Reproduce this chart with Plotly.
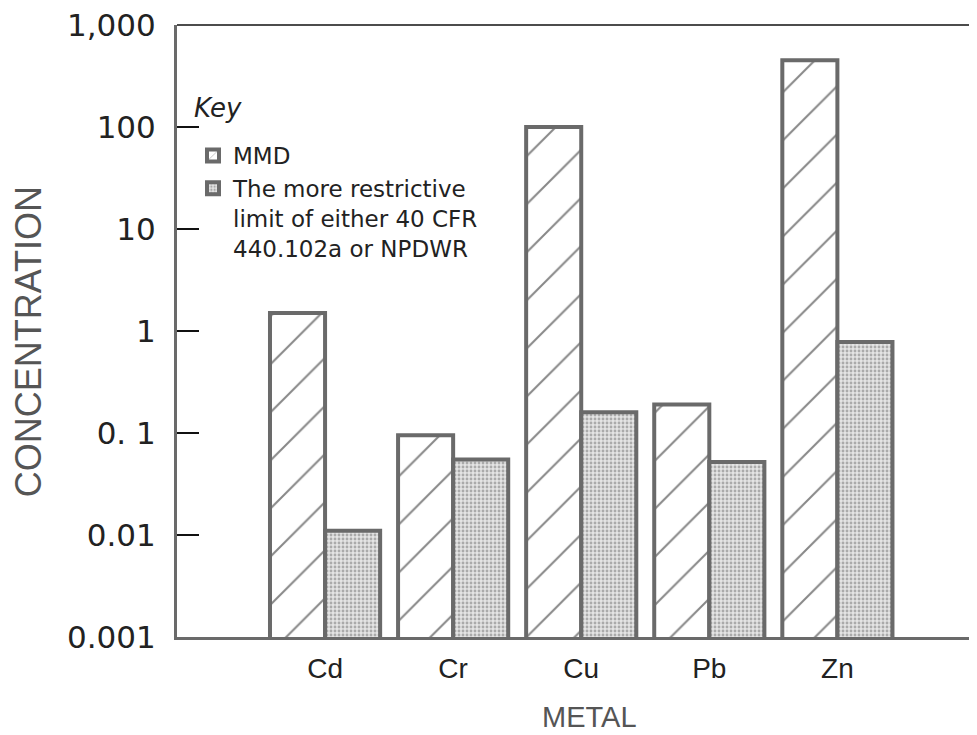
import plotly.graph_objects as go

metals = ["Cd", "Cr", "Cu", "Pb", "Zn"]
mmd = [1.5, 0.095, 100, 0.19, 450]
limit = [0.011, 0.055, 0.16, 0.052, 0.78]
ytick_vals = [0.001, 0.01, 0.1, 1, 10, 100, 1000]
ytick_text = ["0.001", "0.01", "0. 1", "1", "10", "100", "1,000"]

outline = "#6a6a6a"
sans = "Liberation Sans, Arial, sans-serif"
wide = "DejaVu Sans, Verdana, sans-serif"

fig = go.Figure()
fig.add_trace(go.Bar(
    x=metals, y=mmd, name="MMD",
    marker=dict(color="white", line=dict(color=outline, width=4),
                pattern=dict(shape="/", size=34, solidity=0.06, fgcolor="#111", bgcolor="white")),
))
fig.add_trace(go.Bar(
    x=metals, y=limit,
    name="The more restrictive<br>limit of either 40 CFR<br>440.102a or NPDWR",
    marker=dict(color="#dcdcdc", line=dict(color=outline, width=4),
                pattern=dict(shape=".", size=4, solidity=0.4, fgcolor="#707070", bgcolor="#e4e4e4")),
))

# the page body adds an 8px offset; margins compensate so the plot area
# sits at window x 177..977, y 25..637
fig.update_layout(
    width=977, height=735,
    margin=dict(l=169, r=8, t=17, b=106, autoexpand=False),
    paper_bgcolor="white", plot_bgcolor="white",
    barmode="group", bargap=0.14, bargroupgap=0,
    font=dict(family=sans, color="#333"),
    legend=dict(
        x=0.02, y=0.822, xanchor="left", yanchor="top",
        bgcolor="rgba(0,0,0,0)", valign="top",
        font=dict(size=23, color="#222", family=wide),
        traceorder="normal", tracegroupgap=6,
    ),
    showlegend=True,
    annotations=[
        dict(text="<i>Key</i>", xref="paper", yref="paper", x=0.019, y=0.864,
             showarrow=False, xanchor="left", yanchor="middle",
             font=dict(size=26, color="#222", family=wide)),
        dict(text="CONCENTRATION", xref="paper", yref="paper", x=-0.186, y=0.482,
             textangle=-90, showarrow=False, xanchor="center", yanchor="middle",
             font=dict(size=36, color="#555", family=sans)),
        dict(text="METAL", xref="paper", yref="paper", x=0.516, y=-0.13,
             showarrow=False, xanchor="center", yanchor="middle",
             font=dict(size=29, color="#555", family=sans)),
    ],
)
fig.update_xaxes(
    type="category", range=[-1.156, 5.09], automargin=False,
    showline=True, linecolor=outline, linewidth=3,
    ticks="", showgrid=False, zeroline=False,
    tickfont=dict(size=28, color="#222", family=sans), ticklabelstandoff=4,
)
fig.update_yaxes(
    type="log", range=[-3, 3], automargin=False,
    tickvals=ytick_vals, ticktext=ytick_text, ticklabeloverflow="allow",
    showline=True, linecolor=outline, linewidth=3,
    ticks="inside", ticklen=22, tickcolor="#111", tickwidth=1.5,
    showgrid=False, zeroline=False,
    tickfont=dict(size=31, color="#222", family=wide), ticklabelstandoff=12,
)
fig.add_shape(type="line", xref="paper", yref="paper", x0=0, x1=1, y0=1, y1=1,
              line=dict(color="#111", width=1.5))

fig.write_html("out.html")
